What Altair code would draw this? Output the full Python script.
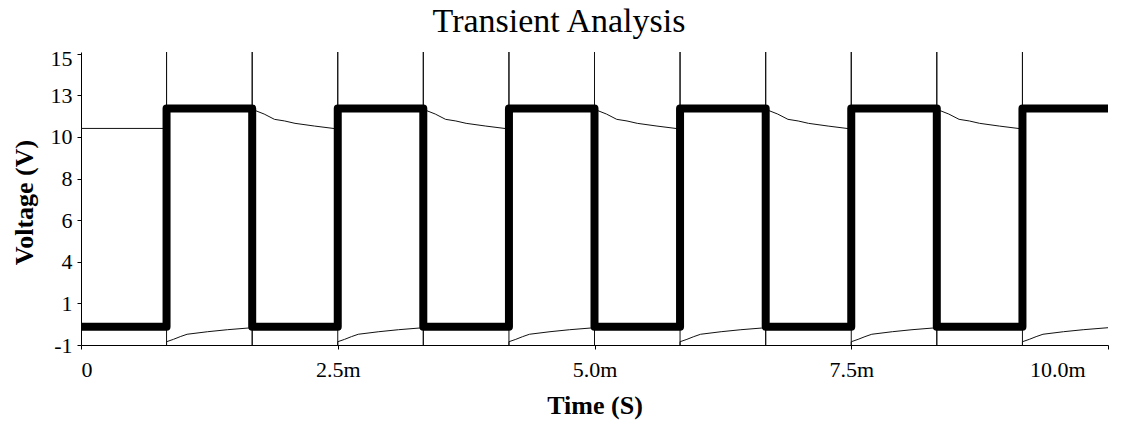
import altair as alt
import pandas as pd

# Square-wave drive (thick trace): switching instants in ms and the level held
# before the first edge and after each edge, in volts.
edge_times = [0.833, 1.667, 2.5, 3.333, 4.167, 5.0, 5.833, 6.667, 7.5, 8.333, 9.167]
square_levels = [0, 12, 0, 12, 0, 12, 0, 12, 0, 12, 0, 12]
t_end = 10.0

# Response trace (thin): initial level, then one exponential-looking segment per
# half period, sampled at fractions of the segment length.
initial_level = 10.9
decay_frac = [0, 0.14, 0.26, 0.38, 0.5, 0.73, 1.0]
decay_vals = [11.95, 11.69, 11.40, 11.31, 11.18, 11.03, 10.87]
rise_frac = [0, 0.08, 0.16, 0.24, 0.48, 0.71, 1.0]
rise_vals = [-0.82, -0.69, -0.54, -0.41, -0.27, -0.16, -0.05]
spike_hi, spike_lo = 15.1, -1.0  # switching spikes run off the plotted range

# Axis ticks and title
x_ticks = [0, 2.5, 5.0, 7.5, 10.0]
y_ticks = [-1, 1.29, 3.57, 5.86, 8.14, 10.43, 12.71, 15]
chart_title = ["Transient Analysis"]

# ---- build tables -------------------------------------------------------
sq_rows = [(0.0, square_levels[0])]
for i, t in enumerate(edge_times):
    sq_rows.append((t, square_levels[i]))
    sq_rows.append((t, square_levels[i + 1]))
sq_rows.append((t_end, square_levels[-1]))
square = pd.DataFrame(sq_rows, columns=["t", "v"])
square["i"] = range(len(square))

th_rows = [(0.0, initial_level), (edge_times[0], initial_level)]
for i, t in enumerate(edge_times):
    seg_end = edge_times[i + 1] if i + 1 < len(edge_times) else t_end
    span = seg_end - t
    if square_levels[i + 1] > square_levels[i]:
        th_rows += [(t, spike_hi), (t, spike_lo)]
        th_rows += [(t + f * span, v) for f, v in zip(rise_frac, rise_vals)]
    else:
        th_rows += [(t, spike_lo), (t, spike_hi)]
        th_rows += [(t + f * span, v) for f, v in zip(decay_frac, decay_vals)]
thin = pd.DataFrame(th_rows, columns=["t", "v"])
thin["i"] = range(len(thin))

SERIF = "Liberation Serif"

x_enc = alt.X(
    "t:Q",
    scale=alt.Scale(domain=[0, 10], nice=False, zero=False),
    axis=alt.Axis(
        values=x_ticks,
        labelExpr="datum.value == 0 ? '0' : format(datum.value, '.1f') + 'm'",
        labelOffset={"condition": {"test": "datum.value == 10", "value": -23}, "value": 0},
        labelPadding=10,
        title="Time (S)",
        titleY=68,
        titleBaseline="alphabetic",
    ),
)
y_enc = alt.Y(
    "v:Q",
    scale=alt.Scale(domain=[-1, 15.1], nice=False, zero=False),
    axis=alt.Axis(
        values=y_ticks,
        labelExpr="'' + round(datum.value)",
        labelOffset={"condition": {"test": "datum.value == 15", "value": 5}, "value": 0},
        labelPadding=5,
        title="Voltage (V)",
        titleAngle=270,
        titleAlign="center",
        titleBaseline="middle",
        titleX=-57,
        titleY=150,
    ),
)

thin_layer = alt.Chart(thin).mark_line(color="#111111", strokeWidth=1, clip=True).encode(
    x=x_enc, y=y_enc, order=alt.Order("i:Q")
)
square_layer = alt.Chart(square).mark_line(
    color="#000000", strokeWidth=8, strokeJoin="round", clip=True
).encode(x=x_enc, y=y_enc, order=alt.Order("i:Q"))

# Chart heading, placed above the plot area
title_layer = alt.Chart(pd.DataFrame({"label": chart_title})).mark_text(
    font=SERIF, fontSize=34, color="black", align="center", baseline="alphabetic"
).encode(x=alt.value(478), y=alt.value(-20), text="label:N")

chart = (
    alt.layer(thin_layer, square_layer, title_layer)
    .properties(
        width=1027,
        height=293,
        autosize=alt.AutoSizeParams(type="none"),
        padding={"left": 81, "top": 52, "right": 14, "bottom": 80},
        background="white",
    )
    .configure_view(stroke=None)
    .configure_axis(
        grid=False,
        domainColor="black",
        domainWidth=1,
        tickColor="black",
        tickWidth=1,
        tickSize=4,
        labelFont=SERIF,
        labelFontSize=22,
        labelColor="black",
        titleFont=SERIF,
        titleFontSize=26,
        titleFontWeight="bold",
        titleColor="black",
    )
)

chart.save("out.html", embed_options={"renderer": "svg", "actions": False})
